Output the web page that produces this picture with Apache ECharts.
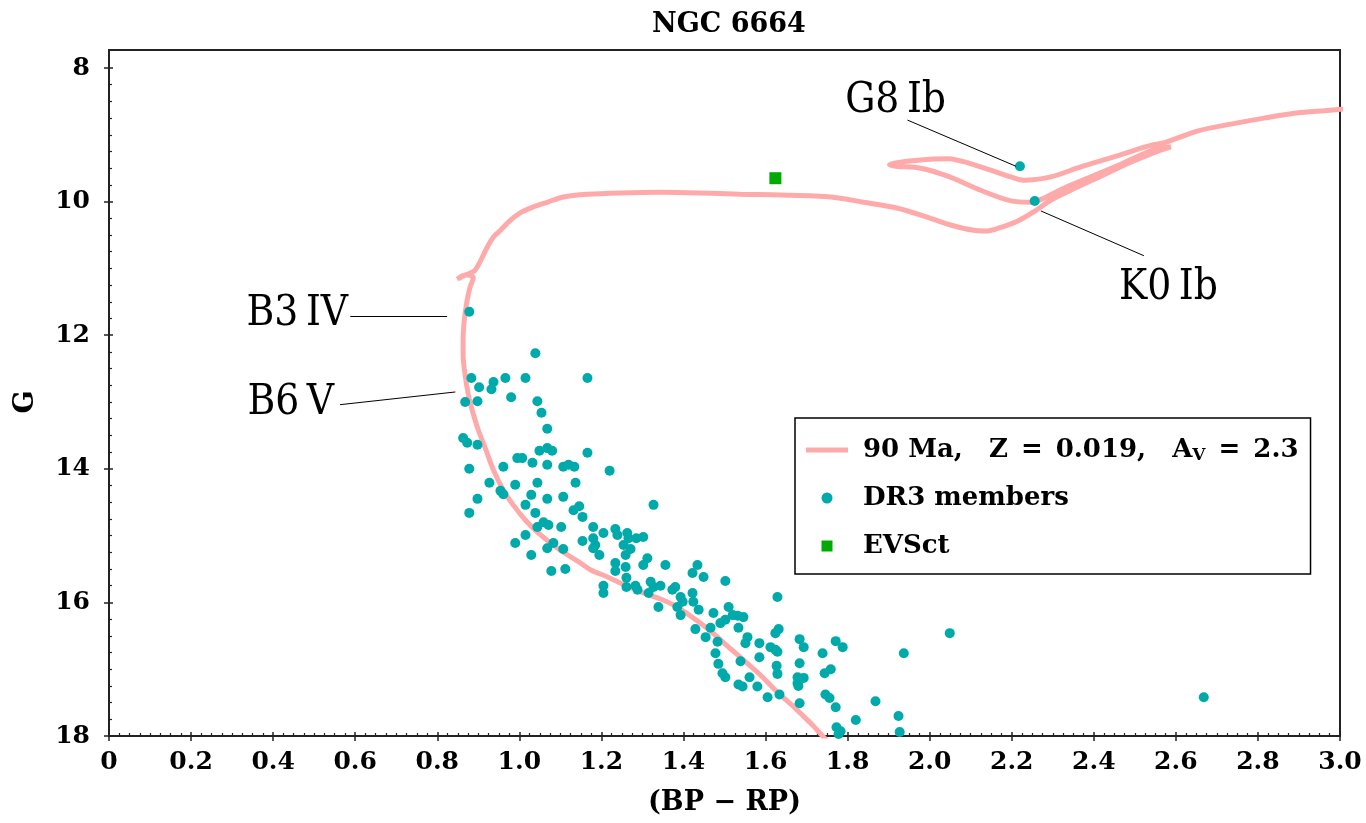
<!DOCTYPE html>
<html><head><meta charset="utf-8">
<script src="https://cdn.jsdelivr.net/npm/echarts@6/dist/echarts.min.js"></script>
<style>html,body{margin:0;padding:0;background:#fff}#c{width:1366px;height:823px}</style>
</head><body><div id="c"></div>
<script>
const chartTitle = 'NGC 6664';
const xName = '(BP \u2212 RP)';
const yName = 'G';
const seriesNames = ['90 Ma, Z = 0.019, A_V = 2.3', 'DR3 members', 'EVSct'];

// Isochrone (BP-RP, G)
const isoBpRp = [1.759,1.739,1.715,1.685,1.661,1.637,1.612,1.588,1.546,1.510,1.483,1.441,1.385,1.344,1.295,1.246,1.215,1.173,1.149,1.093,1.046,1.015,0.985,0.961,0.937,0.917,0.900,0.885,0.876,0.868,0.863,0.863,0.866,0.873,0.880,0.888,0.876,0.861,0.849,0.868,0.890,0.900,0.910,0.922,0.937,0.954,0.978,1.002,1.034,1.068,1.107,1.166,1.246,1.344,1.441,1.539,1.637,1.759,1.839,1.922,2.002,2.051,2.107,2.137,2.166,2.215,2.259,2.295,2.344,2.417,2.490,2.563,2.588,2.539,2.466,2.393,2.327,2.278,2.246,2.198,2.124,2.044,1.978,1.917,1.902,1.917,1.971,2.044,2.124,2.198,2.229,2.295,2.368,2.449,2.532,2.576,2.654,2.734,2.815,2.898,2.961,3.015];
const isoG = [18.13,18.00,17.84,17.66,17.52,17.39,17.24,17.09,16.86,16.67,16.52,16.31,16.07,15.95,15.84,15.71,15.62,15.51,15.41,15.19,14.96,14.77,14.54,14.32,14.02,13.69,13.42,13.12,12.90,12.60,12.30,12.07,11.77,11.47,11.28,11.14,11.10,11.11,11.16,11.10,11.04,10.95,10.83,10.68,10.53,10.43,10.28,10.17,10.08,10.01,9.93,9.89,9.87,9.86,9.87,9.89,9.90,9.93,10.01,10.10,10.25,10.35,10.43,10.44,10.40,10.29,10.13,9.98,9.83,9.62,9.41,9.23,9.18,9.24,9.44,9.63,9.80,9.95,10.01,9.99,9.83,9.62,9.50,9.47,9.45,9.42,9.38,9.36,9.48,9.63,9.68,9.63,9.48,9.33,9.17,9.11,8.94,8.84,8.75,8.67,8.64,8.61];

// Gaia DR3 members
const memberBpRp = [0.878,1.039,0.883,0.902,0.937,0.932,0.966,1.015,1.166,0.980,0.868,0.898,1.044,1.054,1.068,0.863,0.873,0.898,1.049,1.068,1.080,1.166,0.995,1.007,1.032,0.961,0.878,1.068,1.107,1.120,1.134,1.220,0.927,0.990,1.044,1.137,0.954,0.961,1.029,1.068,1.107,0.898,1.015,1.039,1.132,1.146,1.154,0.878,1.327,1.059,1.071,1.044,1.102,1.180,1.205,1.234,1.239,1.263,1.266,1.285,1.302,1.015,0.990,1.083,1.068,1.107,1.154,1.180,1.185,1.180,1.254,1.271,1.029,1.195,1.259,1.312,1.302,1.356,1.234,1.234,1.259,1.078,1.112,1.434,1.422,1.449,1.261,1.261,1.205,1.205,1.283,1.288,1.320,1.327,1.315,1.344,1.380,1.373,1.339,1.393,1.398,1.385,1.393,1.422,1.424,1.437,1.473,1.502,1.629,1.510,1.502,1.520,1.532,1.546,1.429,1.466,1.490,1.454,1.483,1.478,1.534,1.556,1.551,1.585,1.632,1.624,1.612,1.624,1.629,1.683,1.693,1.771,1.788,1.739,1.585,1.539,1.485,1.495,1.502,1.627,1.629,1.683,1.759,1.744,1.534,1.544,1.561,1.580,1.678,1.693,1.678,1.680,1.605,1.634,1.746,1.756,1.683,1.771,1.820,1.868,1.773,1.783,1.778,1.924,1.927,1.937,2.049,2.668,2.220,2.256];
const memberG = [11.65,12.27,12.64,12.78,12.70,12.81,12.64,12.64,12.64,12.93,13.00,12.99,12.99,13.16,13.40,13.54,13.61,13.64,13.73,13.69,13.73,13.76,13.84,13.84,13.91,13.97,14.00,13.94,13.97,13.94,13.97,14.03,14.21,14.24,14.21,14.21,14.33,14.38,14.39,14.45,14.42,14.45,14.54,14.66,14.62,14.56,14.72,14.66,14.54,14.80,14.84,14.87,14.87,14.87,14.96,14.90,14.99,14.96,15.04,15.04,15.02,14.99,15.11,15.11,15.19,15.20,15.08,15.04,15.14,15.19,15.14,15.20,15.29,15.29,15.29,15.34,15.44,15.44,15.41,15.53,15.47,15.53,15.50,15.44,15.56,15.62,15.63,15.77,15.75,15.86,15.75,15.81,15.69,15.77,15.86,15.75,15.77,15.81,16.07,15.92,15.99,16.07,16.19,15.86,15.99,16.11,16.16,15.68,15.92,16.07,16.26,16.19,16.20,16.22,16.40,16.38,16.31,16.52,16.59,16.76,16.38,16.52,16.61,16.61,16.40,16.46,16.67,16.71,16.74,16.55,16.67,16.58,16.67,16.76,16.82,16.88,16.92,17.06,17.12,16.95,17.07,16.91,17.00,17.06,17.23,17.26,17.12,17.26,17.12,17.13,17.21,17.25,17.42,17.38,17.38,17.43,17.51,17.57,17.76,17.48,17.87,17.93,17.97,17.70,17.94,16.76,16.46,17.42,9.47,9.99];

// EVSct star
const evsctBpRp = [1.624];
const evsctG = [9.65];

// Spectral-type annotations: text anchor and leader line (data units)
const annoText = ['G8\u2009Ib', 'K0\u2009Ib', 'B3\u2009IV', 'B6\u2009V'];
const annoTextX = [1.917, 2.582, 0.459, 0.443];
const annoTextY = [8.49, 11.30, 11.68, 13.02];
const annoLineX1 = [1.946, 2.271, 0.588, 0.563];
const annoLineY1 = [8.78, 10.14, 11.72, 13.04];
const annoLineX2 = [2.210, 2.522, 0.824, 0.844];
const annoLineY2 = [9.47, 10.81, 11.72, 12.85];

const serif = 'DejaVu Serif';
const chart = echarts.init(document.getElementById('c'), null, {renderer: 'canvas'});

const zip = (a, b) => a.map((v, i) => [v, b[i]]);

const series = [
  {
    name: seriesNames[0], type: 'line', xAxisIndex: 1, yAxisIndex: 1,
    data: zip(isoBpRp, isoG), showSymbol: false, symbol: 'none', smooth: 0.3,
    lineStyle: {color: '#ffaaaa', width: 5}, itemStyle: {color: '#ffaaaa'}, z: 2, clip: true
  },
  {
    name: seriesNames[1], type: 'scatter', xAxisIndex: 1, yAxisIndex: 1,
    data: zip(memberBpRp, memberG), symbol: 'circle', symbolSize: 10,
    itemStyle: {color: '#00aaaa', opacity: 1}, z: 4
  },
  {
    name: seriesNames[2], type: 'scatter', xAxisIndex: 1, yAxisIndex: 1,
    data: zip(evsctBpRp, evsctG), symbol: 'rect', symbolSize: 12,
    itemStyle: {color: '#00aa00', opacity: 1}, z: 5
  }
];
annoText.forEach((t, i) => {
  series.push({
    type: 'line', xAxisIndex: 1, yAxisIndex: 1, symbol: 'none', silent: true,
    data: [[annoLineX1[i], annoLineY1[i]], [annoLineX2[i], annoLineY2[i]]],
    lineStyle: {color: '#000', width: 1}, z: 6
  });
});
series.push({
  type: 'scatter', xAxisIndex: 1, yAxisIndex: 1, symbolSize: 0, silent: true,
  itemStyle: {color: 'rgba(0,0,0,0)'},
  data: annoText.map((t, i) => ({name: t, value: [annoTextX[i], annoTextY[i]]})),
  label: {show: true, position: 'inside', formatter: p => p.name,
    fontFamily: 'DejaVu Serif Condensed, DejaVu Serif', fontSize: 42, color: '#000', opacity: 1},
  z: 7
});

const axisFont = {fontFamily: serif, fontSize: 25, fontWeight: 'bold', color: '#000'};
const nameFont = {fontFamily: serif, fontSize: 27, fontWeight: 'bold', color: '#000'};
const eq = '\u2002=\u2002';
const legendText = n => n.replace(/, /g, ',\u2003').replace(/ = /g, eq).replace('A_V', 'A{sub|V}');

chart.setOption({
  animation: false,
  backgroundColor: '#fff',
  title: {text: chartTitle, left: 724, top: 6, textAlign: 'center',
    textStyle: {fontFamily: serif, fontSize: 27, fontWeight: 'bold', color: '#000'}},
  legend: {
    data: [
      {name: seriesNames[0], icon: 'path://M0,0 L42,0 L42,5 L0,5 Z'},
      {name: seriesNames[1], icon: 'circle'},
      {name: seriesNames[2], icon: 'path://M0,0 L1,0 L1,1 L0,1 Z'}
    ],
    orient: 'vertical', left: 795, top: 418,
    itemWidth: 42, itemHeight: 11, itemGap: 20,
    padding: [18, 12, 14, 11],
    borderColor: '#000', borderWidth: 1.5, backgroundColor: '#fff',
    formatter: legendText,
    textStyle: {fontFamily: serif, fontSize: 26, fontWeight: 'bold', color: '#000', lineHeight: 28, padding: [0, 0, 0, 10],
      rich: {sub: {fontFamily: serif, fontSize: 17, fontWeight: 'bold', lineHeight: 14, verticalAlign: 'bottom', color: '#000'}}}
  },
  grid: [
    {left: 109, right: 26, top: 50, bottom: 87, show: true, borderColor: '#222', borderWidth: 2, backgroundColor: 'transparent'},
    {left: 109, right: 26, top: 68, bottom: 87}
  ],
  xAxis: [
    {gridIndex: 0, type: 'value', min: 0, max: 1, show: false},
    {gridIndex: 1, type: 'value', min: 0, max: 3, interval: 0.2, position: 'bottom',
      name: xName, nameLocation: 'middle', nameGap: 53, nameTextStyle: nameFont,
      axisLine: {show: true, onZero: false, lineStyle: {color: '#222', width: 2}},
      axisTick: {show: true, inside: false, length: 5, lineStyle: {color: '#222', width: 1.5}},
      axisLabel: Object.assign({margin: 14, formatter: v => v === 0 ? '0' : v.toFixed(1)}, axisFont),
      splitLine: {show: false}},
    {gridIndex: 1, type: 'value', min: 0, max: 3, interval: 0.2, position: 'bottom',
      axisLine: {show: false}, axisLabel: {show: false}, splitLine: {show: false},
      axisTick: {show: true, inside: true, length: 4, lineStyle: {color: '#222', width: 1.5}},
      minorTick: {show: true, splitNumber: 8, length: 3, lineStyle: {color: '#222', width: 1.2}},
      minorSplitLine: {show: false}}
  ],
  yAxis: [
    {gridIndex: 0, type: 'value', min: 0, max: 1, show: false},
    {gridIndex: 1, type: 'value', min: 8, max: 18, interval: 2, inverse: true, position: 'left',
      name: yName, nameLocation: 'middle', nameGap: 70, nameRotate: 90, nameTextStyle: nameFont,
      axisLine: {show: true, onZero: false, lineStyle: {color: '#222', width: 2}},
      axisTick: {show: true, inside: false, length: 5, lineStyle: {color: '#222', width: 1.5}},
      axisLabel: Object.assign({margin: 19}, axisFont),
      splitLine: {show: false}},
    {gridIndex: 1, type: 'value', min: 8, max: 18, interval: 2, inverse: true, position: 'left',
      axisLine: {show: false}, axisLabel: {show: false}, splitLine: {show: false},
      axisTick: {show: true, inside: true, length: 4, lineStyle: {color: '#222', width: 1.5}},
      minorTick: {show: true, splitNumber: 8, length: 3, lineStyle: {color: '#222', width: 1.2}},
      minorSplitLine: {show: false}}
  ],
  series: series
});
</script>
</body></html>
